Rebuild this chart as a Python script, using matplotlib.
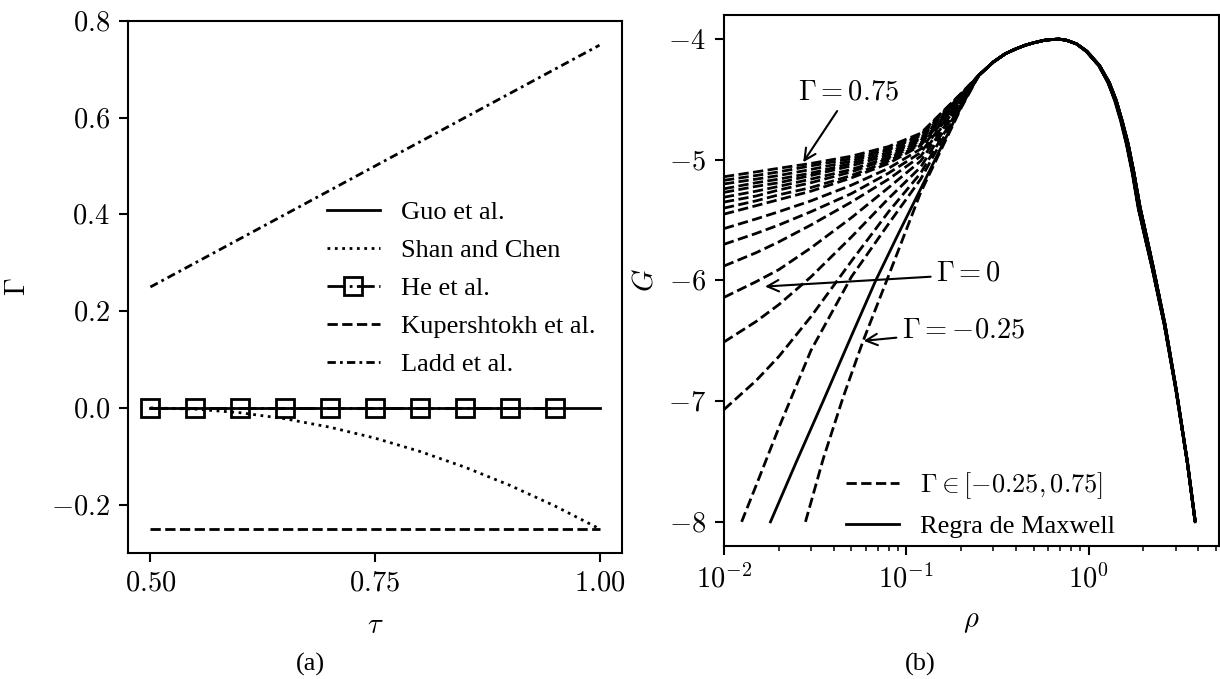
import math
import matplotlib
matplotlib.use('Agg')
import matplotlib.pyplot as plt
from matplotlib.ticker import FuncFormatter, FixedLocator, MultipleLocator

plt.rcParams['font.family'] = 'serif'
plt.rcParams['font.serif'] = ['Liberation Serif', 'DejaVu Serif']
plt.rcParams['mathtext.fontset'] = 'cm'
plt.rcParams['font.size'] = 19
plt.rcParams['axes.labelsize'] = 20.5
plt.rcParams['axes.linewidth'] = 1.5
for a in 'xy':
    plt.rcParams[a + 'tick.labelsize'] = 20.5
    plt.rcParams[a + 'tick.major.size'] = 6.6
    plt.rcParams[a + 'tick.major.width'] = 1.5
    plt.rcParams[a + 'tick.minor.size'] = 3.8
    plt.rcParams[a + 'tick.minor.width'] = 1.1
    plt.rcParams[a + 'tick.major.pad'] = 6.5

# ---- (a) Gamma vs tau for each forcing scheme ----
tau = [0.50, 0.55, 0.60, 0.65, 0.70, 0.75, 0.80, 0.85, 0.90, 0.95, 1.00]
gamma_guo = [0.0] * 11
gamma_shan = [0.0, -0.0025, -0.01, -0.0225, -0.04, -0.0625, -0.09, -0.1225, -0.16, -0.2025, -0.25]
tau_he = [0.50, 0.55, 0.60, 0.65, 0.70, 0.75, 0.80, 0.85, 0.90, 0.95]
gamma_he = [0.0] * 10
gamma_kup = [-0.25] * 11
gamma_ladd = [0.25, 0.30, 0.35, 0.40, 0.45, 0.50, 0.55, 0.60, 0.65, 0.70, 0.75]

# ---- (b) coexistence curves G(rho) ----
# gas branches, one row per Gamma, up to rho = 0.2
rho_gas = [0.01, 0.015, 0.02, 0.03, 0.05, 0.08, 0.12, 0.2]
g_gas = [
    [-5.14, -5.10, -5.07, -5.03, -4.97, -4.89, -4.78, -4.45],
    [-5.17, -5.13, -5.10, -5.05, -4.99, -4.91, -4.79, -4.45],
    [-5.20, -5.16, -5.13, -5.08, -5.01, -4.92, -4.80, -4.46],
    [-5.24, -5.19, -5.16, -5.11, -5.03, -4.94, -4.82, -4.46],
    [-5.27, -5.22, -5.19, -5.13, -5.05, -4.96, -4.83, -4.47],
    [-5.31, -5.26, -5.22, -5.16, -5.08, -4.98, -4.84, -4.47],
    [-5.35, -5.30, -5.25, -5.19, -5.10, -4.99, -4.86, -4.48],
    [-5.40, -5.34, -5.29, -5.23, -5.13, -5.01, -4.87, -4.48],
    [-5.45, -5.38, -5.33, -5.26, -5.15, -5.03, -4.88, -4.49],
    [-5.57, -5.49, -5.43, -5.34, -5.21, -5.07, -4.91, -4.49],
    [-5.70, -5.61, -5.54, -5.43, -5.28, -5.11, -4.94, -4.50],
    [-5.88, -5.77, -5.68, -5.54, -5.35, -5.16, -4.97, -4.51],
    [-6.14, -6.01, -5.91, -5.73, -5.48, -5.23, -5.01, -4.52],
    [-6.51, -6.34, -6.20, -5.97, -5.64, -5.32, -5.06, -4.53],
    [-7.07, -6.83, -6.63, -6.30, -5.84, -5.43, -5.11, -4.54],
]
# gas branches that reach G = -8 inside the plotted range
rho_gas_a = [0.0125, 0.015, 0.02, 0.03, 0.05, 0.08, 0.12, 0.2]
g_gas_a = [-8.0, -7.70, -7.22, -6.58, -5.97, -5.53, -5.16, -4.55]
rho_gas_min = [0.028, 0.035, 0.045, 0.058, 0.08, 0.12, 0.2]
g_gas_min = [-8.0, -7.48, -6.97, -6.50, -5.96, -5.27, -4.57]
rho_gas_max = [0.018, 0.025, 0.035, 0.05, 0.068, 0.09, 0.12, 0.2]
g_gas_max = [-8.0, -7.50, -7.00, -6.46, -6.00, -5.62, -5.24, -4.56]

# shared arc through the critical point
rho_arc = [0.25, 0.3, 0.35, 0.4, 0.45, 0.5, 0.57, 0.63, 0.69]
g_arc = [-4.30, -4.19, -4.12, -4.08, -4.05, -4.03, -4.01, -4.003, -4.0]

# liquid branches (nearly coincident for every Gamma)
g_liq = [-4.01, -4.04, -4.10, -4.22, -4.36, -4.51, -4.68, -4.87, -5.10, -5.40,
         -5.65, -5.90, -6.37, -6.91, -7.51, -8.0]
rho_liq_upper = [0.76, 0.86, 0.98, 1.15, 1.30, 1.42, 1.53, 1.65, 1.77, 1.92,
                 2.09, 2.27, 2.63, 3.03, 3.49, 3.85]
rho_liq_lower = [0.76, 0.86, 0.97, 1.14, 1.28, 1.40, 1.51, 1.62, 1.74, 1.88,
                 2.05, 2.24, 2.61, 3.02, 3.48, 3.84]
rho_liq_max = [0.76, 0.86, 0.97, 1.14, 1.28, 1.39, 1.50, 1.61, 1.73, 1.87,
               2.04, 2.23, 2.60, 3.01, 3.48, 3.84]

fig = plt.figure(figsize=(12.2, 6.79), dpi=100)
ax1 = fig.add_axes([0.1049, 0.1856, 0.4049, 0.7835])
ax2 = fig.add_axes([0.5934, 0.1959, 0.4057, 0.7820])

lw = 2.0
ax1.plot(tau, gamma_guo, 'k-', lw=lw, label='Guo et al.')
ax1.plot(tau, gamma_shan, 'k:', lw=lw, label='Shan and Chen')
ax1.plot(tau_he, gamma_he, 'k-.', lw=lw, marker='s', ms=12.5, mfc='none',
         mew=2, label='He et al.')
ax1.plot(tau, gamma_kup, 'k--', lw=lw, label='Kupershtokh et al.')
ax1.plot(tau, gamma_ladd, color='k', lw=lw, ls=(0, (3, 1.5, 1, 1.5)),
         label='Ladd et al.')

ax1.set_xticks([0.50, 0.75, 1.00])
ax1.xaxis.set_major_formatter(FuncFormatter(lambda v, p: r'$\mathrm{%.2f}$' % v))
ax1.yaxis.set_major_formatter(FuncFormatter(lambda v, p: r'$\mathrm{%.1f}$' % v))
ax1.set_xlabel(r'$\tau$', labelpad=13)
ax1.set_ylabel(r'$\Gamma$', labelpad=14)
ax1.legend(frameon=False, loc='upper left', bbox_to_anchor=(0.381, 0.682),
           borderaxespad=0, fontsize=19, labelspacing=0.55)

n = len(g_gas)
for i, g in enumerate(g_gas):
    rl = rho_liq_upper if i < n // 2 else rho_liq_lower
    ax2.plot(rho_gas + rho_arc + rl, g + g_arc + g_liq, 'k--', lw=lw,
             label=r'$\Gamma \in [-0.25, 0.75]$' if i == 0 else None)
ax2.plot(rho_gas_a + rho_arc + rho_liq_lower, g_gas_a + g_arc + g_liq, 'k--', lw=lw)
ax2.plot(rho_gas_min + rho_arc + rho_liq_lower, g_gas_min + g_arc + g_liq, 'k--', lw=lw)
ax2.plot(rho_gas_max + rho_arc + rho_liq_max, g_gas_max + g_arc + g_liq, 'k-', lw=lw,
         label='Regra de Maxwell')

ax2.set_xscale('log')
ax2.set_xlim(left=1e-2)
ax2.xaxis.set_major_locator(FixedLocator([1e-2, 1e-1, 1e0]))
ax2.xaxis.set_major_formatter(
    FuncFormatter(lambda v, p: r'$\mathrm{10^{%d}}$' % round(math.log10(v))))
ax2.yaxis.set_major_locator(MultipleLocator(1))
ax2.yaxis.set_major_formatter(FuncFormatter(lambda v, p: r'$\mathrm{%d}$' % round(v)))
ax2.set_xlabel(r'$\rho$', labelpad=12)
ax2.set_ylabel(r'$G$', labelpad=7)

arrow = dict(arrowstyle='->', lw=1.5, color='k', shrinkA=2, shrinkB=0)
ax2.annotate(r'$\Gamma = 0.75$', xy=(0.0272, -5.02), xytext=(0.0484, -4.45),
             ha='center', va='center', fontsize=20.5, arrowprops=arrow)
ax2.annotate(r'$\Gamma = 0$', xy=(0.0168, -6.05), xytext=(0.22, -5.95),
             ha='center', va='center', fontsize=20.5, arrowprops=arrow)
ax2.annotate(r'$\Gamma = -0.25$', xy=(0.0584, -6.50), xytext=(0.206, -6.42),
             ha='center', va='center', fontsize=20.5, arrowprops=arrow)

ax2.legend(frameon=False, loc='lower left', bbox_to_anchor=(0.226, -0.005),
           borderaxespad=0, fontsize=19)

fig.text(310 / 1220, 1 - 664 / 679, '(a)', ha='center', va='center', fontsize=19)
fig.text(920 / 1220, 1 - 664 / 679, '(b)', ha='center', va='center', fontsize=19)

fig.savefig('out.png', dpi=100)
